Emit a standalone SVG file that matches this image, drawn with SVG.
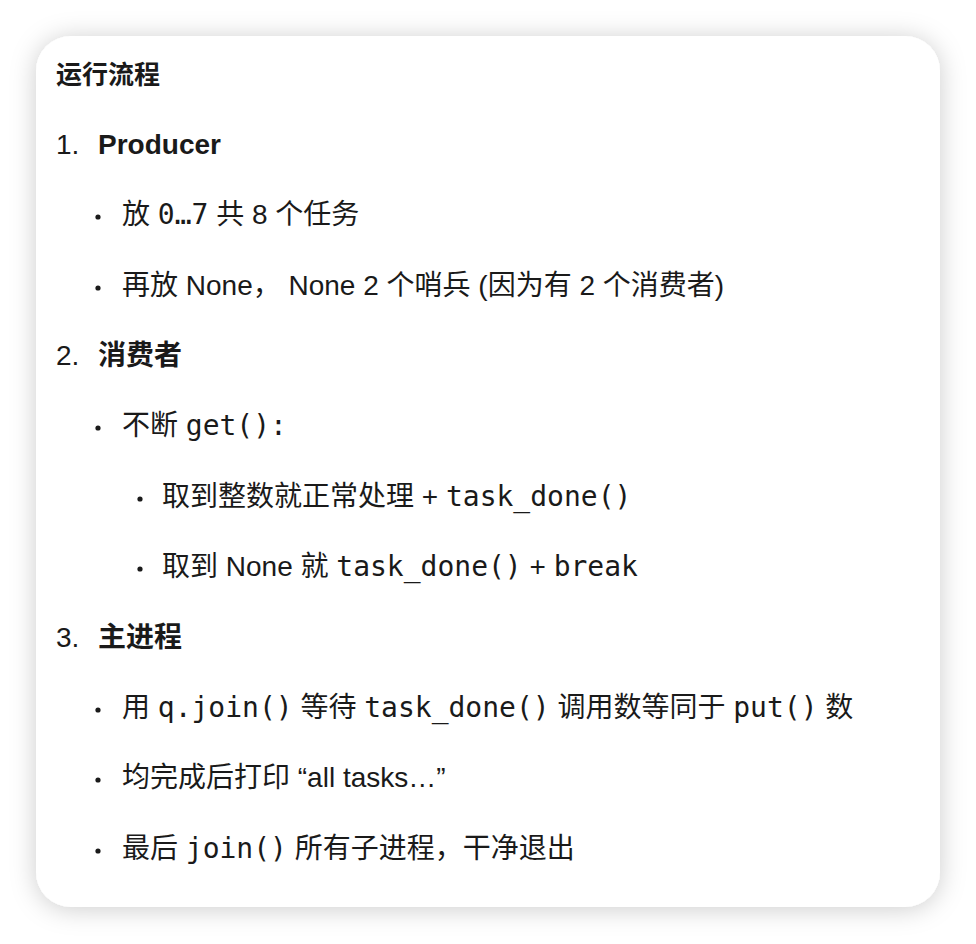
<svg xmlns="http://www.w3.org/2000/svg" width="976" height="944" viewBox="0 0 976 944">
  <defs>
    <filter id="shadow" x="-10%" y="-10%" width="120%" height="120%">
      <feDropShadow dx="0" dy="2" stdDeviation="13" flood-color="#000000" flood-opacity="0.2"/>
    </filter>
    <style>
      text { font-family: "Liberation Sans", "Noto Sans CJK SC", sans-serif; font-size: 28px; fill: #1a1a1a; }
      .title { font-size: 26px; font-weight: 700; }
      .h { font-weight: 700; }
      .m { font-family: "DejaVu Sans Mono", "Noto Sans CJK SC", monospace; }
      .dot { fill: #1a1a1a; }
    </style>
  </defs>
  <rect x="0" y="0" width="976" height="944" fill="#ffffff"/>
  <rect id="card" x="36" y="36" width="904" height="871" rx="35" ry="35" fill="#ffffff" filter="url(#shadow)"/>

  <g id="title"><text class="title" x="56" y="84">运行流程</text></g>

  <g id="item1">
    <text x="56" y="154">1.</text>
    <text class="h" x="98" y="154">Producer</text>
  </g>
  <g id="item1-b1">
    <circle class="dot" cx="98" cy="217" r="2.6"/>
    <text x="122" y="224">放 <tspan class="m">0…7</tspan> 共 8 个任务</text>
  </g>
  <g id="item1-b2">
    <circle class="dot" cx="98" cy="288" r="2.6"/>
    <text x="122" y="295">再放 None， None 2 个哨兵 (因为有 2 个消费者)</text>
  </g>

  <g id="item2">
    <text x="56" y="365">2.</text>
    <text class="h" x="98" y="365">消费者</text>
  </g>
  <g id="item2-b1">
    <circle class="dot" cx="98" cy="428" r="2.6"/>
    <text x="122" y="435">不断 <tspan class="m">get():</tspan></text>
  </g>
  <g id="item2-b1-s1">
    <circle class="dot" cx="140" cy="499" r="2.6"/>
    <text x="162" y="506">取到整数就正常处理 + <tspan class="m">task_done()</tspan></text>
  </g>
  <g id="item2-b1-s2">
    <circle class="dot" cx="140" cy="569" r="2.6"/>
    <text x="162" y="576">取到 None 就 <tspan class="m">task_done()</tspan> + <tspan class="m">break</tspan></text>
  </g>

  <g id="item3">
    <text x="56" y="647">3.</text>
    <text class="h" x="98" y="647">主进程</text>
  </g>
  <g id="item3-b1">
    <circle class="dot" cx="98" cy="710" r="2.6"/>
    <text x="122" y="717">用 <tspan class="m">q.join()</tspan> 等待 <tspan class="m">task_done()</tspan> 调用数等同于 <tspan class="m">put()</tspan> 数</text>
  </g>
  <g id="item3-b2">
    <circle class="dot" cx="98" cy="780" r="2.6"/>
    <text x="122" y="787">均完成后打印 “all tasks…”</text>
  </g>
  <g id="item3-b3">
    <circle class="dot" cx="98" cy="851" r="2.6"/>
    <text x="122" y="858">最后 <tspan class="m">join()</tspan> 所有子进程，干净退出</text>
  </g>
</svg>
